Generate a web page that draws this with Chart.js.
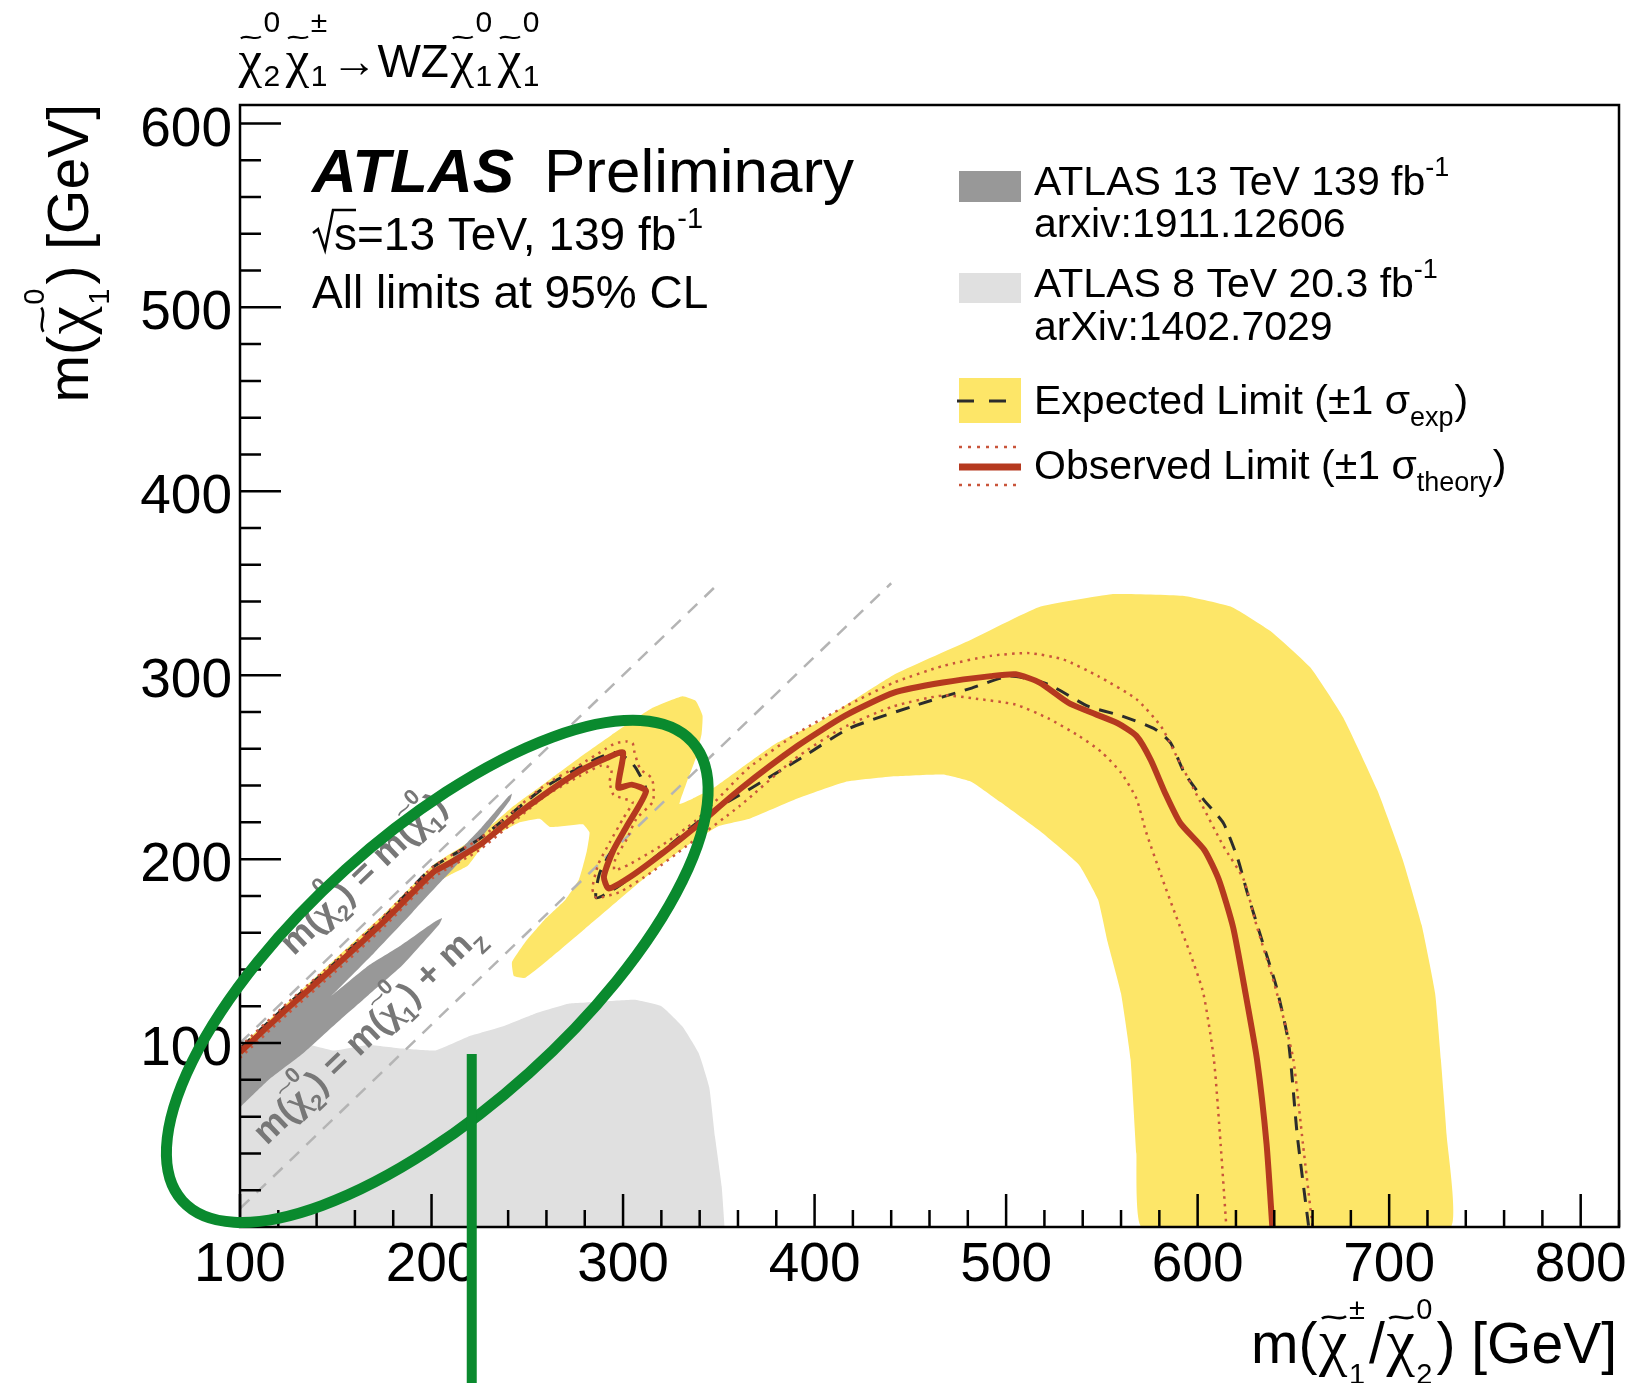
<!DOCTYPE html>
<html>
<head>
<meta charset="utf-8">
<title>WZ exclusion limits</title>
<script src="https://cdn.jsdelivr.net/npm/chart.js@4/dist/chart.umd.min.js"></script>
<style>
  html, body { margin: 0; padding: 0; background: #ffffff; }
  canvas { display: block; }
</style>
</head>
<body>
<canvas id="limits" width="1641" height="1383" style="width:1641px;height:1383px"></canvas>
<script>
// ---------------------------------------------------------------------------
// Axis tick values
// ---------------------------------------------------------------------------
const xMajorTicks = [100, 200, 300, 400, 500, 600, 700, 800];
const yMajorTicks = [100, 200, 300, 400, 500, 600];

// ---------------------------------------------------------------------------
// Contours in (m(chi1+/chi2_0), m(chi1_0)) [GeV]
// ---------------------------------------------------------------------------
// ATLAS 8 TeV 20.3 fb-1 excluded region
const excl8TeV = [
  [100, 0], [100, 75], [130, 100], [149, 96], [167, 99], [185, 97], [202, 96],
  [219, 103.5], [237, 109], [254, 116], [272, 121.5], [289, 122.5], [306, 123.5],
  [320, 120], [331, 109], [339.5, 94.5], [345, 76], [348, 49], [351.5, 22], [353, 0]
];

// ATLAS 13 TeV 139 fb-1 excluded region (arxiv:1911.12606)
const excl13TeV = [
  [100, 93], [125, 117], [150, 140], [175, 164], [200, 190], [207, 196], [215, 205],
  [226, 217], [240, 234], [242, 235.5], [241, 232], [227, 213], [216, 200], [206, 189],
  [190, 171], [170, 149], [150, 128], [147.5, 125.5], [167, 142], [184, 153],
  [201, 165.5], [205.5, 168], [204, 164.5], [184.5, 142], [167, 126], [150, 110.5],
  [132.5, 94], [115, 80], [101, 66], [100, 65]
];

// +-1 sigma_exp band of the expected limit (outer edge, then inner edge)
const expectedBand = [
  [100, 98], [125, 122], [150, 146], [175, 170], [201, 197], [210, 203], [225, 213],
  [243, 229], [260, 242], [277, 255], [294, 267.5], [315, 282], [331, 288.5], [338, 286],
  [341.5, 278], [341, 268], [338, 255], [333, 241], [329.5, 230], [336.5, 233],
  [347, 238.5], [361, 249], [380, 263], [403, 275], [441, 300], [479, 318], [517, 337],
  [555, 344], [593, 343], [618, 337], [638, 324], [659, 304], [676, 277], [694, 237],
  [707, 200], [717, 164], [724, 127], [727, 91], [730, 50], [732, 0],
  [571, 0], [568, 40], [565, 91], [560, 127], [553, 155], [548, 178], [538, 197],
  [518, 215], [497, 231], [482, 242], [467, 246], [442, 245], [416, 242], [391, 233],
  [366, 222], [350, 218], [333, 207], [315, 193], [298, 178], [280, 162], [263, 147],
  [249, 135.5], [243, 136.5], [242, 144], [249, 155], [259, 167], [270, 178], [277, 189],
  [281, 204], [282.5, 214.5], [279, 219], [262, 217.5], [256.5, 222], [246, 220],
  [229, 210], [219, 196.5], [209, 191], [202, 187], [175, 161], [150, 137], [125, 114],
  [100, 91]
];

// Expected limit
const expectedLimit = [
  [100, 97], [125, 121], [150, 144], [175, 168], [200, 195], [225, 211], [259, 239],
  [285, 254], [296, 258], [303, 254], [307, 249], [312, 237], [300, 215], [288, 193],
  [286, 179], [298, 185.5], [322, 205.5], [345, 225], [366, 238], [393, 255], [418, 271],
  [451, 283], [482, 293], [502, 299.5], [522, 295], [543, 283], [560, 278], [578, 270.5],
  [586, 263], [593, 247], [603, 232.5], [613.5, 219.5], [621, 200], [626, 181.5],
  [634, 154.5], [641, 131], [647.5, 100], [652, 50], [658, 0]
];

// Observed limit
const observedLimit = [
  [100, 95], [125, 119], [150, 142], [175, 166], [201, 193], [208, 197], [225.5, 208],
  [243, 223], [260, 236], [277.5, 248], [291.5, 255], [300, 258], [297.5, 239],
  [304.5, 240.5], [312, 237], [302, 218], [295, 205], [290, 190.5], [292.5, 184],
  [304, 190.5], [321, 203.5], [338.5, 218], [361, 238], [391, 261.5], [416, 278],
  [441.5, 290.5], [467, 296], [492, 299.5], [505, 300.5], [517.5, 296], [532.5, 285],
  [542.5, 280.5], [558, 274], [568, 267], [575.5, 254], [583, 236], [591, 219.5],
  [603.5, 205], [611, 189], [618.5, 163], [625, 127], [631, 91], [636, 45], [639, 0]
];

// Observed limit, +1 sigma_theory
const observedUp = [
  [100, 98], [125, 122], [150, 145], [175, 169], [201, 196], [225, 211], [259, 240],
  [277, 251], [291, 260], [296, 263], [302, 264], [305, 263], [306, 258], [309, 249],
  [315, 244], [316, 237], [315.5, 231], [307, 222], [302, 211], [296, 200], [295.5, 194],
  [303, 197], [321, 208], [338, 221], [360, 244], [366, 250], [391, 268.5], [416, 283],
  [441.5, 296], [467, 305], [492, 310.5], [512, 312], [530, 308.5], [548, 299.5],
  [568, 287], [581, 272], [588, 258], [601, 232], [613.5, 207], [624, 189], [631, 163],
  [639, 136], [646, 109], [650, 91], [655, 45], [660, 0]
];

// Observed limit, -1 sigma_theory
const observedDown = [
  [100, 92], [125, 116], [150, 139], [175, 163], [201, 190], [225, 205], [259, 234],
  [277, 245], [289, 251], [294, 249], [293, 242], [295, 235], [300, 233], [305, 231],
  [300, 222], [293, 209], [287, 197], [284, 184], [286, 179], [298, 182], [315, 193],
  [333, 207], [361, 229], [389, 254], [414, 271], [441, 283], [467, 289], [482, 287.5],
  [505, 284], [522, 276.5], [538, 267], [550, 258], [560, 247], [568, 233], [573, 215],
  [581, 191], [588, 171], [596, 149], [603, 127], [608.5, 91], [612, 45], [615, 0]
];

// Kinematic reference lines
const diagEqual = [[100, 100], [350, 350]];   // m(chi2_0) = m(chi1_0)
const diagMz = [[100, 10], [440, 350]];       // m(chi2_0) = m(chi1_0) + m_Z

// ---------------------------------------------------------------------------
// Styling
// ---------------------------------------------------------------------------
const FONT = "'Liberation Sans', Arial, Helvetica, sans-serif";
const CHI_FONT = "'Liberation Serif', 'DejaVu Serif', serif";
const COL = {
  light: '#e0e0e0',
  dark: '#989898',
  yellow: '#fde668',
  expected: '#2c2c2c',
  observed: '#b5391f',
  theory: '#c9553b',
  diag: '#b4b4b4',
  diagText: '#777777',
  mark: '#0a8a2e'
};

// Hand-drawn highlight on top of the figure (centre in data units, sizes in px)
const highlight = {
  ellipse: { cx: 203, cy: 139, rx: 343, ry: 137, angleDeg: -42, width: 11 },
  line: { x: 221, yTop: 94, width: 10 }
};

const toPts = arr => arr.map(([x, y]) => ({ x, y }));

// ---------------------------------------------------------------------------
// Text with tilde-chi and stacked super/subscripts
// ---------------------------------------------------------------------------
function drawTilde(ctx, x0, x1, ty, amp, lw) {
  const w = x1 - x0;
  ctx.beginPath();
  ctx.moveTo(x0, ty + amp * 0.4);
  ctx.bezierCurveTo(x0 + w * 0.3, ty - amp * 1.7, x0 + w * 0.7, ty + amp * 1.7, x1, ty - amp * 0.4);
  ctx.lineWidth = lw;
  ctx.stroke();
}

function drawRich(ctx, parts, x, y, o) {
  const size = o.size;
  const sSize = o.scriptSize || size * 0.6;
  const wt = o.weight || 'normal';
  const mainFont = `${wt} ${size}px ${FONT}`;
  const scrFont = `${wt} ${sSize}px ${FONT}`;
  const chiFont = `${wt} ${Math.round(size * (o.chiScale || 1.1))}px ${CHI_FONT}`;
  const items = parts.map(p => {
    if (typeof p === 'string') {
      ctx.font = mainFont;
      return { kind: 't', t: p, w: ctx.measureText(p).width };
    }
    if (p.chi) {
      ctx.font = chiFont;
      return { kind: 'chi', w: ctx.measureText('\u03c7').width + (o.chiPad || 0) };
    }
    ctx.font = scrFont;
    const w1 = p.sup ? ctx.measureText(p.sup).width : 0;
    const w2 = p.sub ? ctx.measureText(p.sub).width : 0;
    return { kind: 's', sup: p.sup, sub: p.sub, w: Math.max(w1, w2) + (o.scriptPad || 1) };
  });
  const total = items.reduce((s, it) => s + it.w, 0);
  ctx.save();
  ctx.translate(x, y);
  if (o.rotation) ctx.rotate(o.rotation);
  ctx.fillStyle = o.color || '#000';
  ctx.strokeStyle = o.color || '#000';
  ctx.textAlign = 'left';
  ctx.textBaseline = 'alphabetic';
  let cx = o.align === 'right' ? -total : (o.align === 'center' ? -total / 2 : 0);
  for (const it of items) {
    if (it.kind === 't') {
      ctx.font = mainFont;
      ctx.fillText(it.t, cx, 0);
    } else if (it.kind === 'chi') {
      ctx.font = chiFont;
      const pad = (o.chiPad || 0) / 2;
      ctx.fillText('\u03c7', cx + pad, 0);
      drawTilde(ctx, cx + pad + (it.w - 2 * pad) * 0.1, cx + pad + (it.w - 2 * pad) * 0.95,
                -size * o.tildeRise, size * 0.05, Math.max(1.5, size * 0.045));
    } else {
      ctx.font = scrFont;
      if (it.sup) ctx.fillText(it.sup, cx, -size * o.supRise);
      if (it.sub) ctx.fillText(it.sub, cx, size * o.subDrop);
    }
    cx += it.w;
  }
  ctx.restore();
  return total;
}

// ---------------------------------------------------------------------------
// Frame, inward ticks, labels, legend
// ---------------------------------------------------------------------------
const decor = {
  id: 'decor',
  afterDatasetsDraw(chart) {
    const { ctx, chartArea: a } = chart;
    const xs = chart.scales.x, ys = chart.scales.y;

    // labels along the kinematic lines
    const ang = Math.atan2(ys.getPixelForValue(350) - ys.getPixelForValue(100),
                           xs.getPixelForValue(350) - xs.getPixelForValue(100));
    const diagOpts = { size: 36, scriptSize: 22, weight: 'bold', color: COL.diagText,
                       supRise: 0.72, subDrop: 0.32, tildeRise: 0.82, chiScale: 1.05, rotation: ang };
    drawRich(ctx, ['m(', { chi: true }, { sup: '0', sub: '2' }, ') = m(', { chi: true }, { sup: '0', sub: '1' }, ')'],
             xs.getPixelForValue(128), ys.getPixelForValue(147), diagOpts);
    drawRich(ctx, ['m(', { chi: true }, { sup: '0', sub: '2' }, ') = m(', { chi: true }, { sup: '0', sub: '1' }, ') + m', { sub: 'Z' }],
             xs.getPixelForValue(114), ys.getPixelForValue(44), diagOpts);

    // frame
    ctx.save();
    ctx.strokeStyle = '#000';
    ctx.lineWidth = 2.5;
    ctx.strokeRect(a.left, a.top, a.right - a.left, a.bottom - a.top);

    // inward ticks, 5 subdivisions per major step
    ctx.lineWidth = 2.5;
    ctx.beginPath();
    for (let v = xs.min; v <= xs.max + 0.01; v += 20) {
      const px = xs.getPixelForValue(v);
      const len = (v % 100 === 0) ? 33 : 17;
      ctx.moveTo(px, a.bottom);
      ctx.lineTo(px, a.bottom - len);
    }
    for (let v = 20; v <= ys.max; v += 20) {
      const py = ys.getPixelForValue(v);
      const len = (v % 100 === 0) ? 41 : 21;
      ctx.moveTo(a.left, py);
      ctx.lineTo(a.left + len, py);
    }
    ctx.stroke();
    ctx.restore();
  },

  afterDraw(chart) {
    const ctx = chart.ctx;
    const xs = chart.scales.x, ys = chart.scales.y;

    // process label above the frame
    drawRich(ctx, [{ chi: true }, { sup: '0', sub: '2' }, { chi: true }, { sup: '\u00b1', sub: '1' },
                   '\u2192WZ', { chi: true }, { sup: '0', sub: '1' }, { chi: true }, { sup: '0', sub: '1' }],
             237, 77, { size: 46, scriptSize: 30, supRise: 0.98, subDrop: 0.2, tildeRise: 0.86,
                        chiScale: 1.15, chiPad: 3, scriptPad: 4 });

    // axis titles
    const titleOpts = { size: 57, scriptSize: 29, supRise: 0.78, subDrop: 0.36, tildeRise: 0.8,
                        chiScale: 1.12, chiPad: 3, scriptPad: 4 };
    drawRich(ctx, ['m(', { chi: true }, { sup: '0', sub: '1' }, ') [GeV]'], 88, 104,
             Object.assign({}, titleOpts, { align: 'right', rotation: -Math.PI / 2 }));
    drawRich(ctx, ['m(', { chi: true }, { sup: '\u00b1', sub: '1' }, '/', { chi: true }, { sup: '0', sub: '2' }, ') [GeV]'],
             1617, 1363, Object.assign({}, titleOpts, { align: 'right' }));

    // ATLAS label
    ctx.save();
    ctx.fillStyle = '#000';
    ctx.textBaseline = 'alphabetic';
    ctx.textAlign = 'left';
    ctx.font = `italic bold 62px ${FONT}`;
    ctx.fillText('ATLAS', 312, 192);
    ctx.font = `62px ${FONT}`;
    ctx.fillText('Preliminary', 544, 192);

    // sqrt(s) line
    ctx.strokeStyle = '#000';
    ctx.lineWidth = 2.5;
    ctx.beginPath();
    ctx.moveTo(313, 233);
    ctx.lineTo(318, 229);
    ctx.lineTo(325, 250);
    ctx.lineTo(333, 210);
    ctx.lineTo(356, 210);
    ctx.stroke();
    ctx.font = `46px ${FONT}`;
    ctx.fillText('s=13 TeV, 139 fb', 334, 250);
    const w1 = ctx.measureText('s=13 TeV, 139 fb').width;
    ctx.font = `29px ${FONT}`;
    ctx.fillText('-1', 334 + w1 + 1, 228);
    ctx.font = `46px ${FONT}`;
    ctx.fillText('All limits at 95% CL', 312, 308);

    // legend
    const lx = 959, lw = 62, tx = 1034;
    ctx.fillStyle = COL.dark;
    ctx.fillRect(lx, 171, lw, 31);
    ctx.fillStyle = COL.light;
    ctx.fillRect(lx, 273, lw, 30);
    ctx.fillStyle = COL.yellow;
    ctx.fillRect(lx, 378, lw, 45);
    ctx.strokeStyle = COL.expected;
    ctx.lineWidth = 3;
    ctx.setLineDash([17, 15]);
    ctx.beginPath(); ctx.moveTo(957, 401); ctx.lineTo(1021, 401); ctx.stroke();
    ctx.setLineDash([]);
    ctx.strokeStyle = COL.observed;
    ctx.lineWidth = 7;
    ctx.beginPath(); ctx.moveTo(lx, 467); ctx.lineTo(lx + lw, 467); ctx.stroke();
    ctx.strokeStyle = COL.theory;
    ctx.lineWidth = 2.5;
    ctx.setLineDash([3, 6]);
    ctx.beginPath();
    ctx.moveTo(lx, 447); ctx.lineTo(lx + lw, 447);
    ctx.moveTo(lx, 485); ctx.lineTo(lx + lw, 485);
    ctx.stroke();
    ctx.setLineDash([]);
    ctx.restore();

    const legOpts = { size: 41, scriptSize: 27, supRise: 0.46, subDrop: 0.3, tildeRise: 0.9 };
    drawRich(ctx, ['ATLAS 13 TeV 139 fb', { sup: '-1' }], tx, 195, legOpts);
    drawRich(ctx, ['arxiv:1911.12606'], tx, 237, legOpts);
    drawRich(ctx, ['ATLAS 8 TeV 20.3 fb', { sup: '-1' }], tx, 297, legOpts);
    drawRich(ctx, ['arXiv:1402.7029'], tx, 340, legOpts);
    drawRich(ctx, ['Expected Limit (\u00b11 \u03c3', { sub: 'exp' }, ')'], tx, 414, legOpts);
    drawRich(ctx, ['Observed Limit (\u00b11 \u03c3', { sub: 'theory' }, ')'], tx, 479, legOpts);

    // highlight marks
    const e = highlight.ellipse;
    ctx.save();
    ctx.strokeStyle = COL.mark;
    ctx.lineWidth = e.width;
    ctx.beginPath();
    ctx.ellipse(xs.getPixelForValue(e.cx), ys.getPixelForValue(e.cy), e.rx, e.ry,
                e.angleDeg * Math.PI / 180, 0, Math.PI * 2);
    ctx.stroke();
    const l = highlight.line;
    ctx.lineWidth = l.width;
    ctx.beginPath();
    ctx.moveTo(xs.getPixelForValue(l.x), ys.getPixelForValue(l.yTop));
    ctx.lineTo(xs.getPixelForValue(l.x), chart.height);
    ctx.stroke();
    ctx.restore();
  }
};

// ---------------------------------------------------------------------------
// Chart
// ---------------------------------------------------------------------------
const fillSet = (label, data, color, order) => ({
  label, data: toPts(data), showLine: true, fill: 'shape',
  backgroundColor: color, borderColor: 'rgba(0,0,0,0)', borderWidth: 1,
  pointRadius: 0, tension: 0.12, order
});
const lineSet = (label, data, color, width, dash, order, tension) => ({
  label, data: toPts(data), showLine: true, fill: false,
  borderColor: color, borderWidth: width, borderDash: dash,
  borderCapStyle: 'butt', borderJoinStyle: 'round',
  pointRadius: 0, tension: tension || 0, order
});

new Chart(document.getElementById('limits'), {
  type: 'scatter',
  data: {
    datasets: [
      fillSet('ATLAS 8 TeV 20.3 fb-1', excl8TeV, COL.light, 10),
      fillSet('Expected limit band', expectedBand, COL.yellow, 9),
      fillSet('ATLAS 13 TeV 139 fb-1', excl13TeV, COL.dark, 8),
      lineSet('m(chi2) = m(chi1)', diagEqual, COL.diag, 2.5, [13, 10], 7),
      lineSet('m(chi2) = m(chi1) + mZ', diagMz, COL.diag, 2.5, [13, 10], 6),
      lineSet('Expected limit', expectedLimit, COL.expected, 3, [14, 10], 4, 0.2),
      lineSet('Observed +1 sigma', observedUp, COL.theory, 2.5, [2.5, 5], 3, 0.2),
      lineSet('Observed -1 sigma', observedDown, COL.theory, 2.5, [2.5, 5], 2, 0.2),
      lineSet('Observed limit', observedLimit, COL.observed, 6, [], 1, 0.2)
    ]
  },
  options: {
    responsive: false,
    maintainAspectRatio: false,
    devicePixelRatio: 1,
    animation: false,
    events: [],
    layout: { padding: { top: 105, right: 22, left: 0, bottom: 0 } },
    plugins: { legend: { display: false }, tooltip: { enabled: false }, title: { display: false } },
    scales: {
      x: {
        type: 'linear', min: 100, max: 820, position: 'bottom',
        grid: { display: false, drawTicks: false }, border: { display: false },
        afterBuildTicks: s => { s.ticks = xMajorTicks.map(v => ({ value: v })); },
        ticks: { color: '#000', font: { family: FONT, size: 55 }, padding: 6, maxRotation: 0, autoSkip: false },
        afterFit: s => { s.height = 156; s.paddingLeft = 0; s.paddingRight = 0; }
      },
      y: {
        type: 'linear', min: 0, max: 610, position: 'left',
        grid: { display: false, drawTicks: false }, border: { display: false },
        afterBuildTicks: s => { s.ticks = yMajorTicks.map(v => ({ value: v })); },
        ticks: { color: '#000', font: { family: FONT, size: 55 }, padding: 8, labelOffset: 7, autoSkip: false },
        afterFit: s => { s.width = 240; s.paddingTop = 0; s.paddingBottom = 0; }
      }
    }
  },
  plugins: [decor]
});
</script>
</body>
</html>
